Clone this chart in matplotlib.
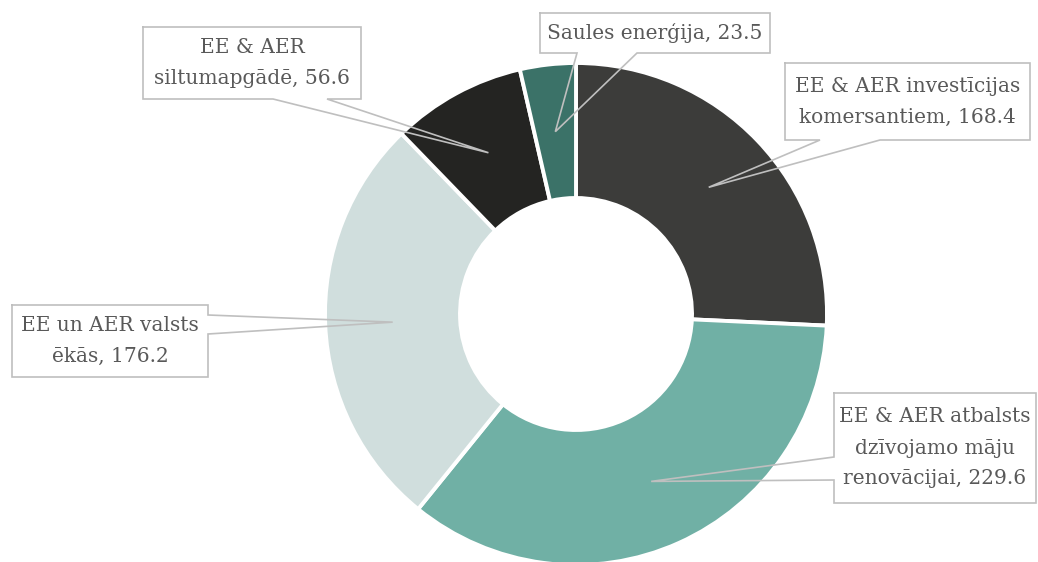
import matplotlib
matplotlib.use('Agg')
import matplotlib.pyplot as plt
import numpy as np

# dati
labels = ["EE & AER investīcijas\nkomersantiem, 168.4",
          "EE & AER atbalsts\ndzīvojamo māju\nrenovācijai, 229.6",
          "EE un AER valsts\nēkās, 176.2",
          "EE & AER\nsiltumapgādē, 56.6",
          "Saules enerģija, 23.5"]
values = [168.4, 229.6, 176.2, 56.6, 23.5]
colors = ['#3c3c3a', '#70b0a5', '#d0dedd', '#242422', '#3b7268']

# callout kastes (pikseļi no augšējā kreisā stūra): x0, y0, x1, y1, puse, pamata sākums, beigas
boxes = [(785, 63, 1030, 140, 'bottom', 820, 880),
         (834, 393, 1036, 503, 'left', 457, 480),
         (12, 305, 208, 377, 'right', 315, 334),
         (143, 27, 361, 99, 'bottom', 273, 327),
         (540, 13, 770, 53, 'bottom', 577, 637)]

W, H = 1038, 562
cx, cy = 576, H - 314
R, r = 251, 116

fig = plt.figure(figsize=(W / 100, H / 100), dpi=100)
ax = fig.add_axes([0, 0, 1, 1])
wedges, _ = ax.pie(values, colors=colors, startangle=90, counterclock=False,
                   radius=R, center=(cx, cy),
                   wedgeprops=dict(width=R - r, edgecolor='white', linewidth=2.8))
ax.set_xlim(0, W)
ax.set_ylim(0, H)
ax.set_aspect('equal')
ax.axis('off')

edge = '#bfbfbf'
for w, lab, b in zip(wedges, labels, boxes):
    # bultas gals - gredzena vidus pie daļas vidējā leņķa
    th = np.deg2rad((w.theta1 + w.theta2) / 2)
    rm = R - (R - r) / 2
    tx, ty = cx + rm * np.cos(th), cy + rm * np.sin(th)
    x0, y0, x1, y1, side, s0, s1 = b
    Y0, Y1 = H - y0, H - y1
    if side == 'bottom':
        pts = [(x0, Y0), (x1, Y0), (x1, Y1), (s1, Y1), (tx, ty), (s0, Y1), (x0, Y1), (x0, Y0)]
    elif side == 'left':
        pts = [(x0, Y0), (x1, Y0), (x1, Y1), (x0, Y1), (x0, H - s1), (tx, ty), (x0, H - s0), (x0, Y0)]
    else:
        pts = [(x0, Y0), (x1, Y0), (x1, H - s0), (tx, ty), (x1, H - s1), (x1, Y1), (x0, Y1), (x0, Y0)]
    pts = np.array(pts)
    ax.fill([x0, x1, x1, x0], [Y0, Y0, Y1, Y1], color='white', zorder=3)
    ax.plot(pts[:, 0], pts[:, 1], color=edge, lw=1.2, zorder=4, solid_joinstyle='miter')
    ax.text((x0 + x1) / 2, (Y0 + Y1) / 2, lab, ha='center', va='center',
            fontsize=14.5, family='DejaVu Serif', color='#595959',
            linespacing=1.8, zorder=5)

fig.savefig('out.png', dpi=100)
